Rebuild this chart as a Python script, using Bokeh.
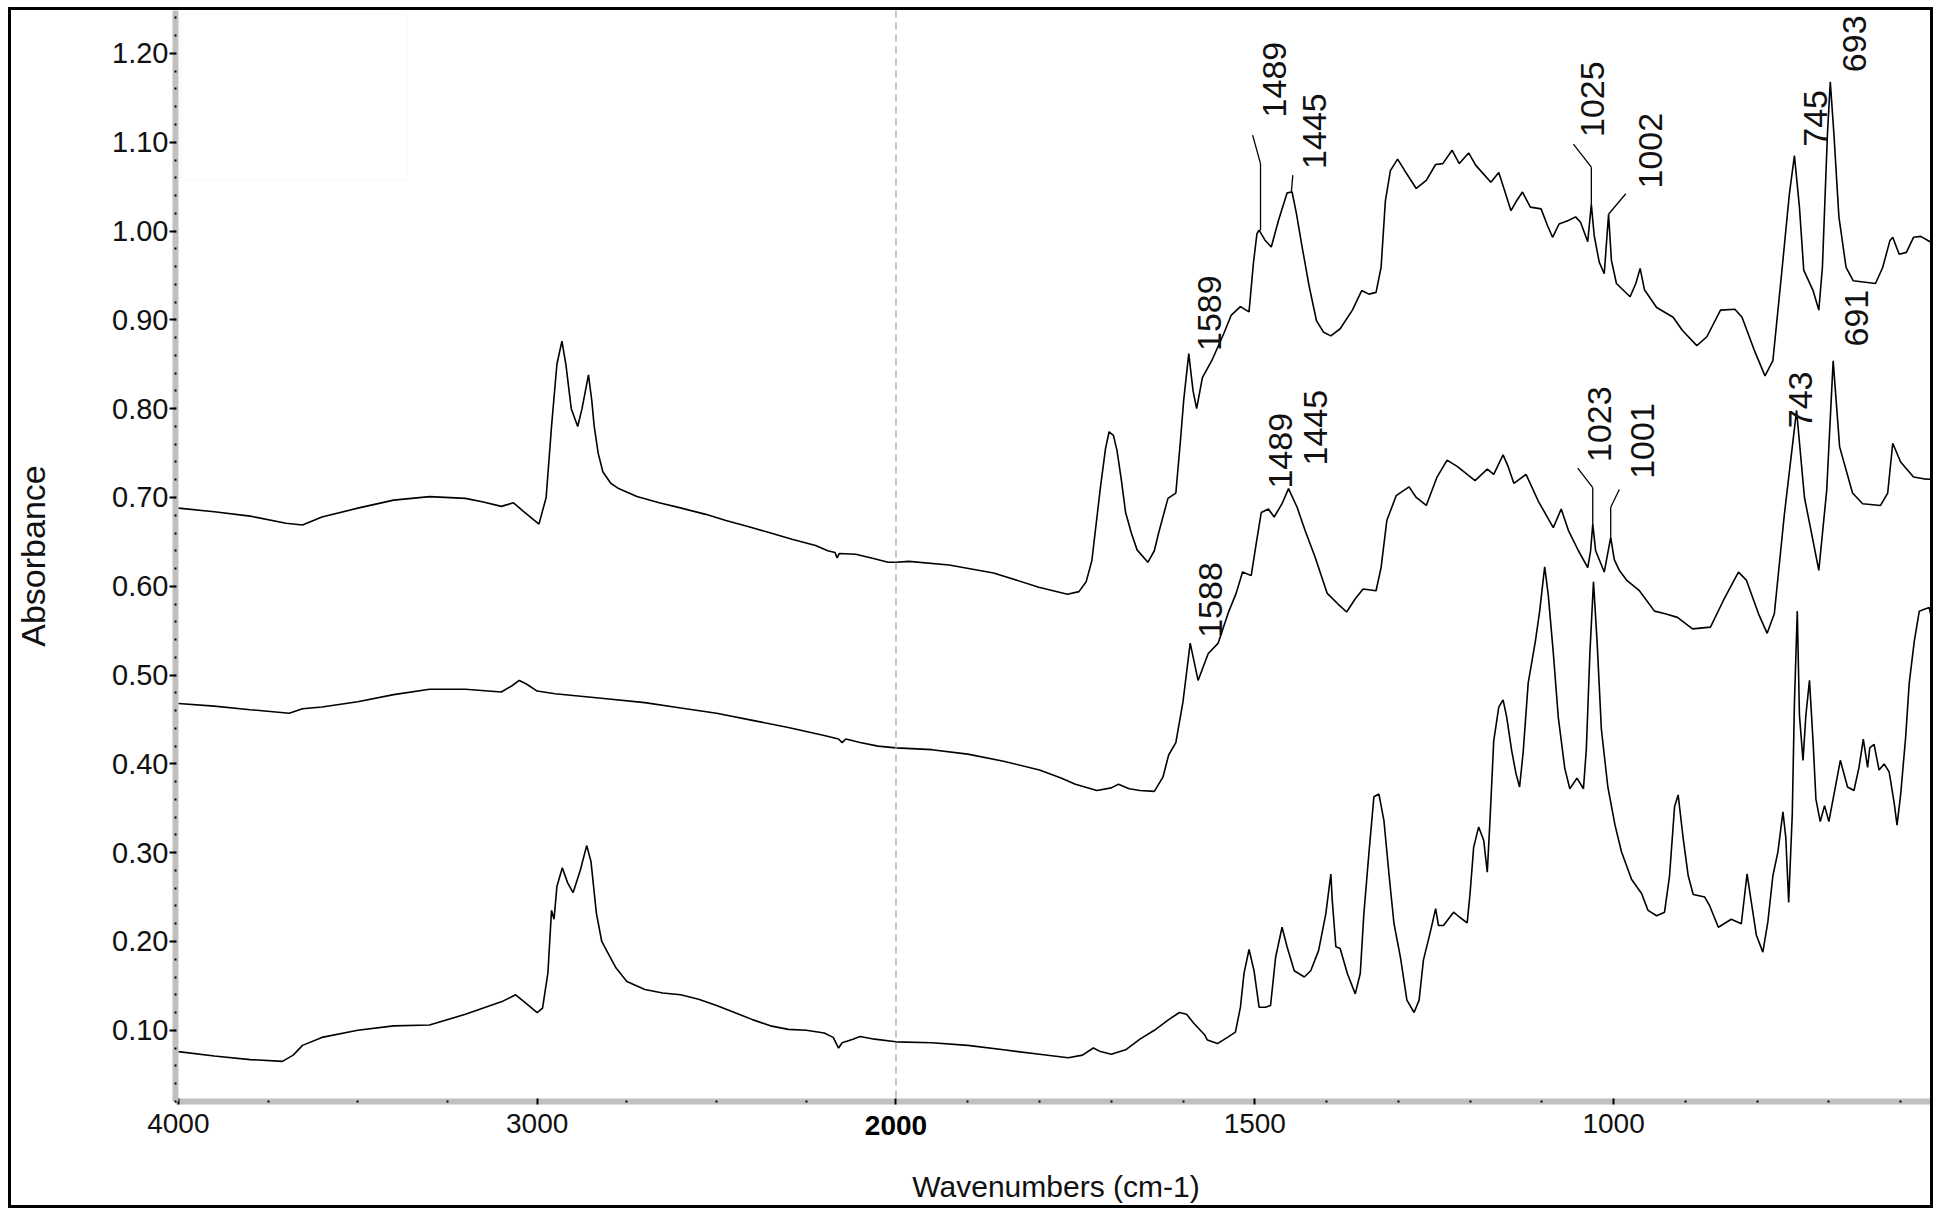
import math
from bokeh.plotting import figure
from bokeh.models import (ColumnDataSource, CustomJSTransform, FixedTicker, Span,
                          LabelSet, BoxAnnotation, Range1d, NumeralTickFormatter, LinearAxis)
from bokeh.transform import transform
from bokeh.core.properties import value
from bokeh.embed import file_html
from bokeh.resources import INLINE

# ---------------- data (wavenumber cm-1, absorbance) ----------------
top_wn = [4000, 3900, 3800, 3700, 3654, 3600, 3500, 3400, 3300, 3200,
          3150, 3100, 3066, 3040, 2995, 2975, 2960, 2945, 2931, 2920,
          2905, 2887, 2875, 2857, 2848, 2841, 2830, 2817, 2795, 2773,
          2722, 2660, 2598, 2530, 2474, 2410, 2349, 2290, 2224, 2190,
          2170, 2164, 2158, 2112, 2060, 2022, 2000, 1982, 1926, 1864,
          1801, 1761, 1745, 1735, 1727, 1715, 1708, 1703, 1697, 1692,
          1686, 1680, 1672, 1664, 1649, 1640, 1634, 1621, 1610, 1604,
          1599, 1592, 1586, 1581, 1573, 1560, 1543, 1533, 1520, 1508,
          1502, 1497, 1494, 1486, 1477, 1467, 1455, 1448, 1442, 1434,
          1424, 1414, 1404, 1394, 1381, 1364, 1351, 1341, 1331, 1324,
          1318, 1311, 1301, 1291, 1275, 1261, 1248, 1238, 1225, 1215,
          1202, 1192, 1182, 1171, 1160, 1152, 1143, 1136, 1127, 1116,
          1101, 1092, 1085, 1076, 1063, 1053, 1046, 1036, 1031, 1027,
          1020, 1013, 1007, 1003, 996, 977, 969, 963, 957, 940,
          917, 904, 884, 870, 851, 831, 821, 804, 789, 778,
          765, 755, 748, 741, 735, 722, 714, 709, 702, 698,
          693, 686, 676, 666, 635, 625, 615, 611, 602, 592,
          582, 572, 559, 549]
top_abs = [0.688, 0.684, 0.679, 0.671, 0.669, 0.678, 0.688, 0.697, 0.701, 0.699,
           0.695, 0.690, 0.694, 0.685, 0.670, 0.700, 0.780, 0.850, 0.876, 0.850,
           0.800, 0.780, 0.800, 0.838, 0.810, 0.780, 0.750, 0.729, 0.716, 0.710,
           0.701, 0.694, 0.688, 0.681, 0.674, 0.667, 0.660, 0.653, 0.646, 0.640,
           0.638, 0.632, 0.637, 0.636, 0.631, 0.627, 0.627, 0.628, 0.624, 0.615,
           0.599, 0.591, 0.594, 0.605, 0.629, 0.712, 0.755, 0.774, 0.770, 0.753,
           0.720, 0.683, 0.660, 0.641, 0.627, 0.640, 0.660, 0.699, 0.705, 0.760,
           0.810, 0.862, 0.820, 0.800, 0.835, 0.854, 0.885, 0.905, 0.915, 0.909,
           0.963, 0.997, 1.001, 0.990, 0.982, 1.012, 1.043, 1.044, 1.020, 0.982,
           0.937, 0.899, 0.886, 0.882, 0.890, 0.911, 0.933, 0.929, 0.931, 0.959,
           1.034, 1.068, 1.081, 1.068, 1.048, 1.057, 1.075, 1.076, 1.091, 1.076,
           1.088, 1.074, 1.065, 1.055, 1.066, 1.046, 1.023, 1.033, 1.044, 1.027,
           1.025, 1.006, 0.993, 1.008, 1.012, 1.016, 1.010, 0.988, 1.030, 0.995,
           0.965, 0.952, 1.019, 0.967, 0.941, 0.926, 0.941, 0.958, 0.934, 0.914,
           0.903, 0.888, 0.871, 0.881, 0.911, 0.912, 0.903, 0.866, 0.837, 0.854,
           0.959, 1.042, 1.085, 1.027, 0.956, 0.933, 0.911, 0.959, 1.109, 1.168,
           1.110, 1.016, 0.959, 0.944, 0.941, 0.959, 0.989, 0.993, 0.974, 0.976,
           0.993, 0.994, 0.988, 0.988]

mid_wn = [4000, 3900, 3800, 3691, 3654, 3600, 3500, 3400, 3300, 3200,
          3100, 3070, 3050, 3030, 3000, 2950, 2900, 2800, 2700, 2600,
          2500, 2400, 2300, 2200, 2160, 2150, 2140, 2100, 2050, 2000,
          1950, 1900, 1850, 1800, 1770, 1750, 1720, 1700, 1690, 1675,
          1660, 1640, 1628, 1620, 1610, 1600, 1590, 1579, 1565, 1551,
          1537, 1526, 1517, 1505, 1498, 1491, 1481, 1473, 1462, 1453,
          1441, 1430, 1416, 1399, 1384, 1372, 1360, 1349, 1331, 1324,
          1316, 1303, 1285, 1275, 1261, 1246, 1232, 1218, 1193, 1176,
          1167, 1154, 1147, 1139, 1122, 1105, 1084, 1073, 1063, 1049,
          1036, 1032, 1029, 1025, 1013, 1004, 999, 992, 982, 964,
          943, 928, 911, 890, 865, 847, 826, 815, 798, 786,
          776, 762, 745, 734, 723, 714, 703, 694, 685, 667,
          653, 628, 618, 611, 600, 582, 568, 550]
mid_abs = [0.468, 0.465, 0.461, 0.457, 0.462, 0.464, 0.470, 0.478, 0.484, 0.484,
           0.481, 0.488, 0.494, 0.490, 0.482, 0.479, 0.477, 0.473, 0.469, 0.463,
           0.457, 0.449, 0.441, 0.432, 0.428, 0.424, 0.428, 0.424, 0.420, 0.418,
           0.416, 0.411, 0.403, 0.393, 0.384, 0.377, 0.370, 0.373, 0.377, 0.372,
           0.370, 0.369, 0.385, 0.410, 0.424, 0.470, 0.536, 0.494, 0.524, 0.536,
           0.570, 0.592, 0.616, 0.612, 0.648, 0.683, 0.687, 0.678, 0.693, 0.710,
           0.689, 0.663, 0.633, 0.592, 0.580, 0.571, 0.586, 0.597, 0.595, 0.621,
           0.674, 0.702, 0.712, 0.700, 0.691, 0.723, 0.742, 0.735, 0.719, 0.732,
           0.726, 0.748, 0.735, 0.716, 0.726, 0.696, 0.666, 0.687, 0.663, 0.640,
           0.621, 0.640, 0.670, 0.640, 0.616, 0.655, 0.630, 0.618, 0.607, 0.595,
           0.572, 0.569, 0.565, 0.552, 0.554, 0.584, 0.616, 0.607, 0.569, 0.547,
           0.569, 0.681, 0.798, 0.700, 0.655, 0.618, 0.708, 0.854, 0.757, 0.705,
           0.693, 0.691, 0.705, 0.761, 0.740, 0.723, 0.721, 0.720]

bot_wn = [4000, 3900, 3800, 3710, 3680, 3654, 3600, 3500, 3400, 3300,
          3200, 3100, 3060, 3030, 3000, 2985, 2970, 2960, 2953, 2945,
          2930, 2915, 2900, 2880, 2862, 2850, 2835, 2820, 2800, 2780,
          2750, 2700, 2650, 2600, 2550, 2500, 2450, 2400, 2350, 2300,
          2250, 2200, 2175, 2160, 2150, 2120, 2100, 2060, 2000, 1950,
          1900, 1850, 1800, 1760, 1740, 1725, 1715, 1700, 1680, 1660,
          1640, 1620, 1605, 1595, 1585, 1570, 1566, 1552, 1538, 1527,
          1520, 1515, 1508, 1501, 1494, 1485, 1478, 1471, 1462, 1455,
          1445, 1431, 1422, 1411, 1401, 1394, 1392, 1387, 1381, 1371,
          1360, 1353, 1348, 1341, 1334, 1327, 1320, 1313, 1306, 1297,
          1288, 1278, 1271, 1265, 1255, 1248, 1244, 1237, 1223, 1214,
          1204, 1200, 1195, 1188, 1181, 1176, 1172, 1167, 1160, 1154,
          1149, 1142, 1136, 1131, 1126, 1119, 1109, 1103, 1096, 1091,
          1084, 1077, 1068, 1061, 1051, 1042, 1038, 1033, 1028, 1023,
          1017, 1008, 998, 989, 975, 961, 952, 940, 929, 922,
          915, 910, 903, 896, 889, 873, 866, 854, 836, 822,
          814, 808, 801, 792, 785, 778, 771, 764, 760, 756,
          751, 748, 744, 741, 736, 732, 727, 722, 718, 712,
          706, 700, 693, 684, 674, 665, 658, 652, 646, 643,
          637, 630, 623, 616, 609, 605, 600, 593, 588, 581,
          574, 567, 560, 555, 551]
bot_abs = [0.076, 0.071, 0.067, 0.065, 0.072, 0.083, 0.092, 0.100, 0.105, 0.106,
           0.118, 0.132, 0.140, 0.130, 0.120, 0.125, 0.165, 0.235, 0.225, 0.262,
           0.283, 0.266, 0.255, 0.280, 0.308, 0.290, 0.232, 0.200, 0.185, 0.170,
           0.155, 0.146, 0.142, 0.140, 0.135, 0.128, 0.120, 0.112, 0.105, 0.101,
           0.100, 0.097, 0.092, 0.080, 0.086, 0.090, 0.093, 0.090, 0.087, 0.086,
           0.083, 0.078, 0.073, 0.069, 0.072, 0.080, 0.076, 0.073, 0.078, 0.090,
           0.100, 0.112, 0.120, 0.118, 0.108, 0.095, 0.089, 0.085, 0.092, 0.098,
           0.126, 0.164, 0.191, 0.167, 0.126, 0.126, 0.128, 0.182, 0.216, 0.194,
           0.167, 0.160, 0.167, 0.190, 0.231, 0.276, 0.246, 0.194, 0.192, 0.164,
           0.141, 0.164, 0.231, 0.299, 0.363, 0.366, 0.336, 0.276, 0.220, 0.182,
           0.134, 0.120, 0.134, 0.179, 0.212, 0.237, 0.218, 0.218, 0.233, 0.227,
           0.221, 0.254, 0.306, 0.329, 0.314, 0.278, 0.340, 0.426, 0.464, 0.472,
           0.453, 0.415, 0.389, 0.374, 0.413, 0.491, 0.538, 0.572, 0.622, 0.590,
           0.525, 0.452, 0.395, 0.372, 0.384, 0.372, 0.416, 0.525, 0.605, 0.538,
           0.439, 0.374, 0.331, 0.301, 0.270, 0.254, 0.235, 0.229, 0.233, 0.274,
           0.352, 0.365, 0.316, 0.274, 0.253, 0.250, 0.240, 0.216, 0.225, 0.220,
           0.276, 0.244, 0.207, 0.188, 0.222, 0.274, 0.301, 0.346, 0.317, 0.244,
           0.343, 0.468, 0.572, 0.455, 0.404, 0.455, 0.494, 0.425, 0.360, 0.335,
           0.353, 0.335, 0.365, 0.404, 0.374, 0.370, 0.396, 0.428, 0.396, 0.418,
           0.422, 0.393, 0.400, 0.391, 0.356, 0.331, 0.365, 0.430, 0.491, 0.538,
           0.572, 0.574, 0.576, 0.556, 0.538]

# peak labels (text, wavenumber of label centre, absorbance at label foot)
peak_text = ["1589", "1489", "1445", "1025", "1002", "745", "693",
             "1588", "1489", "1445", "1023", "1001", "743", "691"]
peak_label_wn = [1563, 1473, 1417, 1029, 948, 718, 664,
                 1561, 1464, 1415, 1020, 960, 740, 662]
peak_label_abs = [0.865, 1.128, 1.070, 1.106, 1.048, 1.095, 1.179,
                  0.542, 0.710, 0.736, 0.740, 0.721, 0.778, 0.870]

# leader lines from peak tops to labels
lead_wn0 = [1492, 1492, 1449, 1031, 1031, 1007, 1029, 1029, 1004, 1004]
lead_abs0 = [1.001, 1.076, 1.044, 1.030, 1.072, 1.019, 0.670, 0.711, 0.655, 0.689]
lead_wn1 = [1492, 1503, 1447, 1031, 1056, 983, 1029, 1050, 1004, 992]
lead_abs1 = [1.076, 1.108, 1.063, 1.072, 1.098, 1.042, 0.711, 0.733, 0.689, 0.709]

x_major_wn = [4000, 3000, 2000, 1500, 1000]
x_bold_wn = [2000]
x_minor_wn = [3750, 3500, 3250, 2750, 2500, 2250,
              1900, 1800, 1700, 1600, 1400, 1300, 1200, 1100, 900, 800, 700, 600]
y_major = [0.10, 0.20, 0.30, 0.40, 0.50, 0.60, 0.70, 0.80, 0.90, 1.00, 1.10, 1.20]
y_minor = [round(0.02 * i, 2) for i in range(1, 63)]

assert len(top_wn) == len(top_abs)
assert len(mid_wn) == len(mid_abs)
assert len(bot_wn) == len(bot_abs)

# ---------------- broken wavenumber axis ----------------
# 4000-2000 is drawn at half the scale of 2000-550
def brk(w):
    return (4000.0 - w) / 2.0 if w >= 2000 else 1000.0 + (2000.0 - w)

brk_js = CustomJSTransform(
    v_func="""
    const out = new Float64Array(xs.length);
    for (let i = 0; i < xs.length; i++) {
        const w = xs[i];
        out[i] = (w >= 2000) ? (4000 - w) / 2 : 1000 + (2000 - w);
    }
    return out;
    """,
    func="""
    return (x >= 2000) ? (4000 - x) / 2 : 1000 + (2000 - x);
    """)

p = figure(width=1925, height=1201, output_backend="svg", toolbar_location=None,
           x_range=Range1d(brk(4008), brk(550)), y_range=Range1d(0.0198, 1.2484),
           min_border_left=162, min_border_right=0, min_border_top=0, min_border_bottom=110)
p.styles = {"border": "3px solid #000000", "margin-top": "7px", "margin-left": "8px"}
p.outline_line_color = None
p.grid.visible = False
p.background_fill_color = "white"
p.border_fill_color = "white"

# faint empty legend box at top-left
p.add_layout(BoxAnnotation(left=brk(3992), right=brk(3362), top=1.244, bottom=1.057,
                           fill_color=None, line_color="#ececec", line_width=1.5))

# dashed divider at 2000
p.add_layout(Span(location=brk(2000), dimension="height", line_color="#a8a8a8",
                  line_dash="7 5", line_width=1.3))

for wn, ab in ((top_wn, top_abs), (mid_wn, mid_abs), (bot_wn, bot_abs)):
    src = ColumnDataSource(dict(w=wn, a=ab))
    p.line(x=transform("w", brk_js), y="a", source=src, line_color="black", line_width=1.6)

lead_src = ColumnDataSource(dict(w0=lead_wn0, a0=lead_abs0, w1=lead_wn1, a1=lead_abs1))
p.segment(x0=transform("w0", brk_js), y0="a0", x1=transform("w1", brk_js), y1="a1",
          source=lead_src, line_color="black", line_width=1.3)

lab_src = ColumnDataSource(dict(w=peak_label_wn, a=peak_label_abs, t=peak_text))
p.add_layout(LabelSet(x=transform("w", brk_js), y="a", text="t", source=lab_src,
                      angle=math.pi / 2, text_align="left", text_baseline="middle",
                      text_font=value("Liberation Sans"), text_font_size="34px",
                      text_color="#111111"))

# ---------------- axes ----------------
xa = p.xaxis[0]
xa.ticker = FixedTicker(ticks=[brk(w) for w in x_major_wn],
                        minor_ticks=[brk(w) for w in x_minor_wn])
xa.major_label_overrides = {brk(w): ("" if w in x_bold_wn else str(w)) for w in x_major_wn}
xa.axis_line_color = "#c0c0c0"
xa.axis_line_width = 6
xa.major_tick_line_color = "black"
xa.major_tick_line_width = 2
xa.major_tick_in = 3
xa.major_tick_out = 3
xa.minor_tick_line_color = "black"
xa.minor_tick_line_width = 2
xa.minor_tick_in = 1
xa.minor_tick_out = 1
xa.major_label_text_font = "Liberation Sans"
xa.major_label_text_font_size = "28px"
xa.major_label_text_color = "#111111"
xa.major_label_standoff = 9

# second axis carrying the bold 2000 label (pulled up into the first axis' label row)
xb = LinearAxis(ticker=FixedTicker(ticks=[brk(w) for w in x_bold_wn], minor_ticks=[]),
                major_label_overrides={brk(w): str(w) for w in x_bold_wn})
xb.axis_line_color = None
xb.major_tick_line_color = None
xb.minor_tick_line_color = None
xb.major_tick_in = 0
xb.major_tick_out = 0
xb.major_label_text_font = "Liberation Sans"
xb.major_label_text_font_size = "28px"
xb.major_label_text_font_style = "bold"
xb.major_label_text_color = "black"
xb.major_label_standoff = -20
xb.axis_label = "Wavenumbers (cm-1)"
xb.axis_label_text_font = "Liberation Sans"
xb.axis_label_text_font_size = "30px"
xb.axis_label_text_font_style = "normal"
xb.axis_label_text_color = "#111111"
xb.axis_label_standoff = 32
p.add_layout(xb, "below")

ya = p.yaxis[0]
ya.ticker = FixedTicker(ticks=y_major, minor_ticks=y_minor)
ya.formatter = NumeralTickFormatter(format="0.00")
ya.axis_line_color = "#c0c0c0"
ya.axis_line_width = 6
ya.major_tick_line_color = "black"
ya.major_tick_line_width = 2
ya.major_tick_in = 0
ya.major_tick_out = 6
ya.minor_tick_line_color = "black"
ya.minor_tick_line_width = 2
ya.minor_tick_in = 1
ya.minor_tick_out = 1
ya.major_label_text_font = "Liberation Sans"
ya.major_label_text_font_size = "29px"
ya.major_label_text_color = "#111111"
ya.major_label_standoff = 1
ya.axis_label = "Absorbance"
ya.axis_label_text_font = "Liberation Sans"
ya.axis_label_text_font_size = "34px"
ya.axis_label_text_font_style = "normal"
ya.axis_label_text_color = "#111111"
ya.axis_label_standoff = 57

open("out.html", "w").write(file_html(p, INLINE))
